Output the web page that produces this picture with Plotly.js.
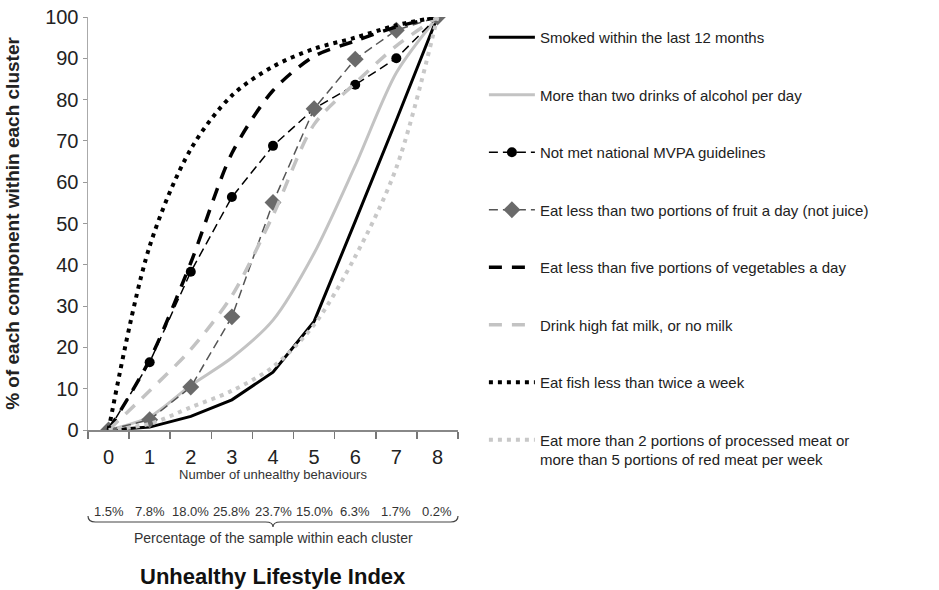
<!DOCTYPE html>
<html>
<head>
<meta charset="utf-8">
<script src="https://cdn.plot.ly/plotly-3.0.1.min.js"></script>
<style>html,body{margin:0;padding:0;background:#fff;}#chart{width:939px;height:590px;}</style>
</head>
<body>
<div id="chart"></div>
<script>
const behaviours = ["0","1","2","3","4","5","6","7","8"];
const samplePct = ["1.5%","7.8%","18.0%","25.8%","23.7%","15.0%","6.3%","1.7%","0.2%"];

const smoked     = [0, 0.7, 3.3, 7.3, 14.0, 26.3, 50.5, 75.0, 100];
const alcohol    = [0, 3.2, 10.8, 17.5, 26.6, 42.8, 64.0, 86.5, 100];
const mvpa       = [0, 16.4, 38.3, 56.4, 68.8, 77.8, 83.6, 90.0, 100];
const fruit      = [0, 2.5, 10.4, 27.4, 55.1, 77.8, 89.8, 96.8, 100];
const vegetables = [0, 17.0, 40.5, 67.0, 82.2, 90.5, 94.2, 97.6, 100];
const milk       = [0, 9.5, 19.5, 32.5, 52.0, 74.0, 84.0, 93.0, 100];
const fish       = [0, 44.5, 68.0, 81.0, 88.0, 92.3, 95.0, 98.0, 100];
const meat       = [0, 1.5, 5.5, 9.5, 15.3, 25.5, 42.0, 63.5, 100];

const names = [
  "Smoked within the last 12 months",
  "More than two drinks of alcohol per day",
  "Not met national MVPA guidelines",
  "Eat less than two portions of fruit a day (not juice)",
  "Eat less than five portions of vegetables a day",
  "Drink high fat milk, or no milk",
  "Eat fish less than twice a week",
  "Eat more than 2 portions of processed meat or<br>more than 5 portions of red meat per week"
];

const FONT = "Liberation Sans, Arial, sans-serif";
const NARROW = "Liberation Sans Narrow, Arial Narrow, Liberation Sans, sans-serif";

function tr(y, name, line, extra) {
  return Object.assign({
    x: behaviours, y: y, name: name, type: "scatter", mode: "lines",
    line: line, legendgroup: name, hoverinfo: "x+y"
  }, extra || {});
}

const data = [
  tr(smoked, names[0], {color: "#000000", width: 3}),
  tr(alcohol, names[1], {color: "#c3c3c3", width: 3, shape: "spline", smoothing: 0.8}),
  tr(mvpa, names[2], {color: "#000000", width: 1.5, dash: "9px,5px"},
     {mode: "lines+markers", marker: {symbol: "circle", size: 10, color: "#000000"}}),
  tr(fruit, names[3], {color: "#555555", width: 1.5, dash: "9px,5px"},
     {mode: "lines+markers", marker: {symbol: "diamond", size: 13, color: "#6a6a6a"}}),
  tr(vegetables, names[4], {color: "#000000", width: 3.5, dash: "13px,10px", shape: "spline", smoothing: 0.8}),
  tr(milk, names[5], {color: "#c3c3c3", width: 3.5, dash: "13px,10px", shape: "spline", smoothing: 0.8}),
  tr(fish, names[6], {color: "#000000", width: 4, dash: "4px,5px", shape: "spline", smoothing: 0.9}),
  tr(meat, names[7], {color: "#c8c8c8", width: 4, dash: "4px,5px", shape: "spline", smoothing: 0.9})
];

// plot area: x 88..458, y 17..430
const plotH = 413;
function py(pix) { return (430 - pix) / plotH; }

const annotations = samplePct.map((t, i) => ({
  x: behaviours[i], xref: "x", y: py(511), yref: "paper",
  text: t, showarrow: false, xanchor: "center", yanchor: "middle",
  font: {family: NARROW, size: 13, color: "#333333"}
}));
annotations.push(
  {x: 0.5, xref: "paper", y: py(538), yref: "paper", text: "Percentage of the sample within each cluster",
   showarrow: false, xanchor: "center", yanchor: "middle", font: {family: NARROW, size: 14, color: "#333333"}},
  {x: 0.5, xref: "paper", y: py(576), yref: "paper", text: "<b>Unhealthy Lifestyle Index</b>",
   showarrow: false, xanchor: "center", yanchor: "middle", font: {family: FONT, size: 22, color: "#111111"}}
);

// brace under the percentages
const bTop = py(516), bMid = py(522), bLow = py(527);
const shapes = [{
  type: "path", xref: "paper", yref: "paper",
  path: `M 0,${bTop} Q 0,${bMid} 0.02,${bMid} L 0.48,${bMid} Q 0.5,${bMid} 0.5,${bLow} Q 0.5,${bMid} 0.52,${bMid} L 0.98,${bMid} Q 1,${bMid} 1,${bTop}`,
  line: {color: "#444444", width: 1.2}
}];

const layout = {
  width: 939, height: 590,
  margin: {l: 88, r: 481, t: 17, b: 160},
  paper_bgcolor: "#ffffff", plot_bgcolor: "#ffffff",
  font: {family: FONT, color: "#222222"},
  showlegend: true,
  legend: {
    x: 1.07, xanchor: "left", y: py(21), yanchor: "top",
    font: {family: FONT, size: 15, color: "#222222"},
    tracegroupgap: 35, itemwidth: 46, valign: "top",
    maxheight: 570,
    bgcolor: "rgba(0,0,0,0)"
  },
  xaxis: {
    type: "category", range: [-0.5, 8.5], tickson: "boundaries",
    ticks: "outside", ticklen: 7, tickcolor: "#777777", tickwidth: 1.5,
    showline: true, linecolor: "#888888", linewidth: 1.5,
    showgrid: false, zeroline: false,
    tickfont: {family: FONT, size: 20, color: "#222222"},
    ticklabelstandoff: 8,
    title: {text: "Number of unhealthy behaviours", font: {family: NARROW, size: 13, color: "#333333"}, standoff: 2}
  },
  yaxis: {
    range: [0, 100], dtick: 10, ticks: "outside", ticklen: 4, tickcolor: "#999999",
    showline: true, linecolor: "#aaaaaa", linewidth: 1.5,
    showgrid: false, zeroline: false,
    tickfont: {family: FONT, size: 20, color: "#222222"},
    title: {text: "<b>% of each component within each cluster</b>", font: {family: FONT, size: 19, color: "#222222"}, standoff: 20}
  },
  annotations: annotations,
  shapes: shapes
};

Plotly.newPlot("chart", data, layout, {displayModeBar: false, staticPlot: true});
</script>
</body>
</html>
